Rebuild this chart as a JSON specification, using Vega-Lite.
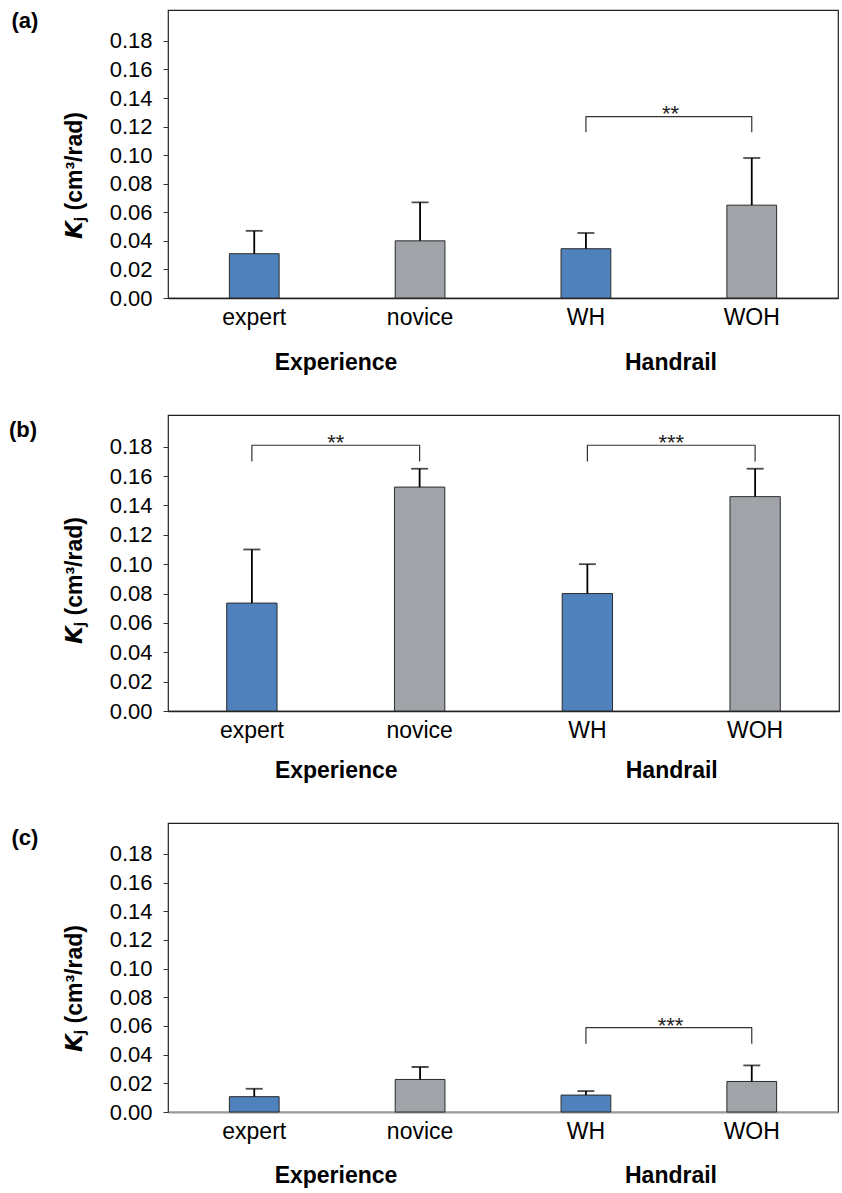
{
  "$schema": "https://vega.github.io/schema/vega-lite/v6.json",
  "padding": {"left": 8, "top": 9, "right": 4, "bottom": 0},
  "spacing": 39,
  "datasets": {
    "bars": [
      {"panel": "a", "group": "Experience", "cond": "expert", "mean": 0.031, "upper": 0.047},
      {"panel": "a", "group": "Experience", "cond": "novice", "mean": 0.040, "upper": 0.067},
      {"panel": "a", "group": "Handrail", "cond": "WH", "mean": 0.0345, "upper": 0.0455},
      {"panel": "a", "group": "Handrail", "cond": "WOH", "mean": 0.065, "upper": 0.098},
      {"panel": "b", "group": "Experience", "cond": "expert", "mean": 0.0735, "upper": 0.110},
      {"panel": "b", "group": "Experience", "cond": "novice", "mean": 0.1525, "upper": 0.165},
      {"panel": "b", "group": "Handrail", "cond": "WH", "mean": 0.080, "upper": 0.100},
      {"panel": "b", "group": "Handrail", "cond": "WOH", "mean": 0.146, "upper": 0.165},
      {"panel": "c", "group": "Experience", "cond": "expert", "mean": 0.0107, "upper": 0.0162},
      {"panel": "c", "group": "Experience", "cond": "novice", "mean": 0.0227, "upper": 0.0314},
      {"panel": "c", "group": "Handrail", "cond": "WH", "mean": 0.0118, "upper": 0.0146},
      {"panel": "c", "group": "Handrail", "cond": "WOH", "mean": 0.0213, "upper": 0.0325}
    ],
    "brackets": [
      {"panel": "a", "bid": "a1", "ord": 1, "cond": "WH", "y": 0.116},
      {"panel": "a", "bid": "a1", "ord": 2, "cond": "WH", "y": 0.127},
      {"panel": "a", "bid": "a1", "ord": 3, "cond": "WOH", "y": 0.127},
      {"panel": "a", "bid": "a1", "ord": 4, "cond": "WOH", "y": 0.116},
      {"panel": "b", "bid": "b1", "ord": 1, "cond": "expert", "y": 0.170},
      {"panel": "b", "bid": "b1", "ord": 2, "cond": "expert", "y": 0.181},
      {"panel": "b", "bid": "b1", "ord": 3, "cond": "novice", "y": 0.181},
      {"panel": "b", "bid": "b1", "ord": 4, "cond": "novice", "y": 0.170},
      {"panel": "b", "bid": "b2", "ord": 1, "cond": "WH", "y": 0.170},
      {"panel": "b", "bid": "b2", "ord": 2, "cond": "WH", "y": 0.181},
      {"panel": "b", "bid": "b2", "ord": 3, "cond": "WOH", "y": 0.181},
      {"panel": "b", "bid": "b2", "ord": 4, "cond": "WOH", "y": 0.170},
      {"panel": "c", "bid": "c1", "ord": 1, "cond": "WH", "y": 0.0476},
      {"panel": "c", "bid": "c1", "ord": 2, "cond": "WH", "y": 0.0589},
      {"panel": "c", "bid": "c1", "ord": 3, "cond": "WOH", "y": 0.0589},
      {"panel": "c", "bid": "c1", "ord": 4, "cond": "WOH", "y": 0.0476}
    ],
    "stars": [
      {"panel": "a", "group": "Handrail", "label": "**", "y": 0.1323},
      {"panel": "b", "group": "Experience", "label": "**", "y": 0.1857},
      {"panel": "b", "group": "Handrail", "label": "***", "y": 0.1857},
      {"panel": "c", "group": "Handrail", "label": "***", "y": 0.0638}
    ]
  },
  "vconcat": [
    {
      "width": 670, "height": 288,
      "title": {"text": "(a)", "orient": "left", "anchor": "end", "angle": 0, "align": "right", "baseline": "top", "offset": -2, "dy": 1},
      "layer": [
        {
          "layer": [
            {"data": {"name": "bars"}, "transform": [{"filter": "datum.panel === 'a'"}],
             "mark": {"type": "bar", "stroke": "#2b2b2b", "strokeWidth": 1},
             "encoding": {
               "x": {"field": "cond", "type": "nominal", "sort": ["expert", "novice", "WH", "WOH"], "scale": {"domain": ["expert", "novice", "WH", "WOH"], "paddingInner": 0.7, "paddingOuter": 0.37}, "axis": {"orient": "bottom", "title": null, "domainColor": "#222", "domainWidth": 1.5}},
               "y": {"field": "mean", "type": "quantitative", "scale": {"domain": [0, 0.2016], "nice": false, "zero": true}, "title": "𝙆ⱼ (cm³/rad)", "axis": {"values": [0, 0.02, 0.04, 0.06, 0.08, 0.1, 0.12, 0.14, 0.16, 0.18], "tickCount": 12}},
               "color": {"field": "cond", "type": "nominal", "scale": {"domain": ["expert", "novice", "WH", "WOH"], "range": ["#4f81bd", "#a0a3a7", "#4f81bd", "#a0a3a7"]}, "legend": null}
             }},
            {"data": {"name": "bars"}, "transform": [{"filter": "datum.panel === 'a'"}],
             "mark": {"type": "rule", "color": "black", "strokeWidth": 1.8},
             "encoding": {"x": {"field": "cond", "type": "nominal"}, "y": {"field": "mean", "type": "quantitative", "title": "𝙆ⱼ (cm³/rad)"}, "y2": {"field": "upper"}}},
            {"data": {"name": "bars"}, "transform": [{"filter": "datum.panel === 'a'"}],
             "mark": {"type": "tick", "color": "black", "thickness": 1.8, "size": 17},
             "encoding": {"x": {"field": "cond", "type": "nominal"}, "y": {"field": "upper", "type": "quantitative", "title": "𝙆ⱼ (cm³/rad)"}}},
            {"data": {"name": "brackets"}, "transform": [{"filter": "datum.panel === 'a'"}],
             "mark": {"type": "line", "color": "#333", "strokeWidth": 1.2, "strokeJoin": "round"},
             "encoding": {"x": {"field": "cond", "type": "nominal"}, "y": {"field": "y", "type": "quantitative", "title": "𝙆ⱼ (cm³/rad)"}, "order": {"field": "ord"}, "detail": {"field": "bid"}}}
          ]
        },
        {"data": {"name": "stars"}, "transform": [{"filter": "datum.panel === 'a'"}],
         "mark": {"type": "text", "fontSize": 22, "baseline": "middle", "dy": 5, "color": "#222"},
         "encoding": {
           "x": {"field": "group", "type": "nominal", "scale": {"domain": ["Experience", "Handrail"], "paddingInner": 0, "paddingOuter": 0}, "axis": {"orient": "bottom", "domain": false, "ticks": false, "labelFontSize": 23, "labelFontWeight": "bold", "labelPadding": 53, "labelAngle": 0, "title": null}},
           "y": {"field": "y", "type": "quantitative", "title": "𝙆ⱼ (cm³/rad)"},
           "text": {"field": "label"}
         }}
      ],
      "resolve": {"scale": {"x": "independent"}, "axis": {"x": "independent"}}
    },
    {
      "width": 671, "height": 296,
      "title": {"text": "(b)", "orient": "left", "anchor": "end", "angle": 0, "align": "right", "baseline": "top", "offset": -2, "dy": 5},
      "layer": [
        {
          "layer": [
            {"data": {"name": "bars"}, "transform": [{"filter": "datum.panel === 'b'"}],
             "mark": {"type": "bar", "stroke": "#2b2b2b", "strokeWidth": 1},
             "encoding": {
               "x": {"field": "cond", "type": "nominal", "sort": ["expert", "novice", "WH", "WOH"], "scale": {"domain": ["expert", "novice", "WH", "WOH"], "paddingInner": 0.7, "paddingOuter": 0.35}, "axis": {"orient": "bottom", "title": null, "domainColor": "#222", "domainWidth": 1.5}},
               "y": {"field": "mean", "type": "quantitative", "scale": {"domain": [0, 0.2016], "nice": false, "zero": true}, "title": "𝙆ⱼ (cm³/rad)", "axis": {"values": [0, 0.02, 0.04, 0.06, 0.08, 0.1, 0.12, 0.14, 0.16, 0.18], "tickCount": 12}},
               "color": {"field": "cond", "type": "nominal", "scale": {"domain": ["expert", "novice", "WH", "WOH"], "range": ["#4f81bd", "#a0a3a7", "#4f81bd", "#a0a3a7"]}, "legend": null}
             }},
            {"data": {"name": "bars"}, "transform": [{"filter": "datum.panel === 'b'"}],
             "mark": {"type": "rule", "color": "black", "strokeWidth": 1.8},
             "encoding": {"x": {"field": "cond", "type": "nominal"}, "y": {"field": "mean", "type": "quantitative", "title": "𝙆ⱼ (cm³/rad)"}, "y2": {"field": "upper"}}},
            {"data": {"name": "bars"}, "transform": [{"filter": "datum.panel === 'b'"}],
             "mark": {"type": "tick", "color": "black", "thickness": 1.8, "size": 17},
             "encoding": {"x": {"field": "cond", "type": "nominal"}, "y": {"field": "upper", "type": "quantitative", "title": "𝙆ⱼ (cm³/rad)"}}},
            {"data": {"name": "brackets"}, "transform": [{"filter": "datum.panel === 'b'"}],
             "mark": {"type": "line", "color": "#333", "strokeWidth": 1.2, "strokeJoin": "round"},
             "encoding": {"x": {"field": "cond", "type": "nominal"}, "y": {"field": "y", "type": "quantitative", "title": "𝙆ⱼ (cm³/rad)"}, "order": {"field": "ord"}, "detail": {"field": "bid"}}}
          ]
        },
        {"data": {"name": "stars"}, "transform": [{"filter": "datum.panel === 'b'"}],
         "mark": {"type": "text", "fontSize": 22, "baseline": "middle", "dy": 5, "color": "#222"},
         "encoding": {
           "x": {"field": "group", "type": "nominal", "scale": {"domain": ["Experience", "Handrail"], "paddingInner": 0, "paddingOuter": 0}, "axis": {"orient": "bottom", "domain": false, "ticks": false, "labelFontSize": 23, "labelFontWeight": "bold", "labelPadding": 48, "labelAngle": 0, "title": null}},
           "y": {"field": "y", "type": "quantitative", "title": "𝙆ⱼ (cm³/rad)"},
           "text": {"field": "label"}
         }}
      ],
      "resolve": {"scale": {"x": "independent"}, "axis": {"x": "independent"}}
    },
    {
      "width": 670, "height": 289,
      "title": {"text": "(c)", "orient": "left", "anchor": "end", "angle": 0, "align": "right", "baseline": "top", "offset": -2, "dy": 5},
      "layer": [
        {
          "layer": [
            {"data": {"name": "bars"}, "transform": [{"filter": "datum.panel === 'c'"}],
             "mark": {"type": "bar", "stroke": "#2b2b2b", "strokeWidth": 1},
             "encoding": {
               "x": {"field": "cond", "type": "nominal", "sort": ["expert", "novice", "WH", "WOH"], "scale": {"domain": ["expert", "novice", "WH", "WOH"], "paddingInner": 0.7, "paddingOuter": 0.37}, "axis": {"orient": "bottom", "title": null, "domainColor": "#999", "domainWidth": 2}},
               "y": {"field": "mean", "type": "quantitative", "scale": {"domain": [0, 0.2016], "nice": false, "zero": true}, "title": "𝙆ⱼ (cm³/rad)", "axis": {"values": [0, 0.02, 0.04, 0.06, 0.08, 0.1, 0.12, 0.14, 0.16, 0.18], "tickCount": 12}},
               "color": {"field": "cond", "type": "nominal", "scale": {"domain": ["expert", "novice", "WH", "WOH"], "range": ["#4f81bd", "#a0a3a7", "#4f81bd", "#a0a3a7"]}, "legend": null}
             }},
            {"data": {"name": "bars"}, "transform": [{"filter": "datum.panel === 'c'"}],
             "mark": {"type": "rule", "color": "black", "strokeWidth": 1.8},
             "encoding": {"x": {"field": "cond", "type": "nominal"}, "y": {"field": "mean", "type": "quantitative", "title": "𝙆ⱼ (cm³/rad)"}, "y2": {"field": "upper"}}},
            {"data": {"name": "bars"}, "transform": [{"filter": "datum.panel === 'c'"}],
             "mark": {"type": "tick", "color": "black", "thickness": 1.8, "size": 17},
             "encoding": {"x": {"field": "cond", "type": "nominal"}, "y": {"field": "upper", "type": "quantitative", "title": "𝙆ⱼ (cm³/rad)"}}},
            {"data": {"name": "brackets"}, "transform": [{"filter": "datum.panel === 'c'"}],
             "mark": {"type": "line", "color": "#333", "strokeWidth": 1.2, "strokeJoin": "round"},
             "encoding": {"x": {"field": "cond", "type": "nominal"}, "y": {"field": "y", "type": "quantitative", "title": "𝙆ⱼ (cm³/rad)"}, "order": {"field": "ord"}, "detail": {"field": "bid"}}}
          ]
        },
        {"data": {"name": "stars"}, "transform": [{"filter": "datum.panel === 'c'"}],
         "mark": {"type": "text", "fontSize": 22, "baseline": "middle", "dy": 5, "color": "#222"},
         "encoding": {
           "x": {"field": "group", "type": "nominal", "scale": {"domain": ["Experience", "Handrail"], "paddingInner": 0, "paddingOuter": 0}, "axis": {"orient": "bottom", "domain": false, "ticks": false, "labelFontSize": 23, "labelFontWeight": "bold", "labelPadding": 52, "labelAngle": 0, "title": null}},
           "y": {"field": "y", "type": "quantitative", "title": "𝙆ⱼ (cm³/rad)"},
           "text": {"field": "label"}
         }}
      ],
      "resolve": {"scale": {"x": "independent"}, "axis": {"x": "independent"}}
    }
  ],
  "config": {
    "font": "Liberation Sans",
    "view": {"stroke": "#222", "strokeWidth": 1.2},
    "title": {"fontSize": 22, "fontWeight": "bold", "color": "black", "font": "Liberation Sans"},
    "axisX": {"ticks": false, "labelFontSize": 23, "labelColor": "black", "labelPadding": 8, "labelAngle": 0, "grid": false},
    "axisY": {"format": ".2f", "tickCount": 12, "tickSize": 5, "tickColor": "#333", "domain": false, "grid": false, "labelFontSize": 22, "labelColor": "black", "labelPadding": 11, "labelOverlap": false, "titleFontSize": 23, "titleFontWeight": "bold", "titleColor": "black", "titlePadding": 23, "titleY": 165}
  }
}
